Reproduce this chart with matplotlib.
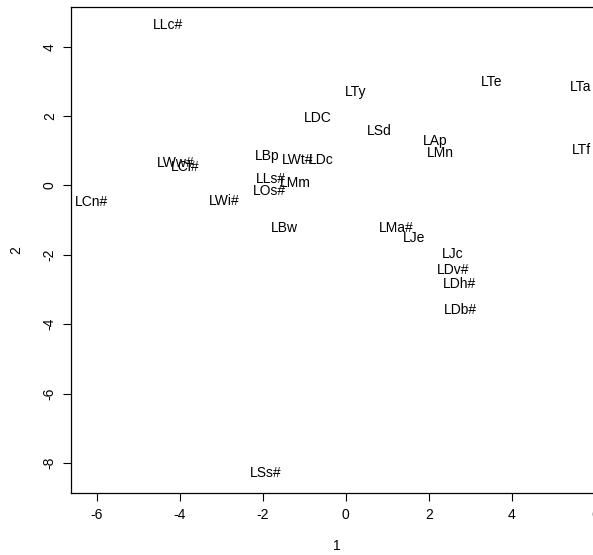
import matplotlib
matplotlib.use('Agg')
import matplotlib.pyplot as plt

plt.rcParams['font.family'] = ['Liberation Sans', 'DejaVu Sans']

# sample labels and their coordinates on the first two axes
labels = ['LLc#', 'LTy', 'LTe', 'LTa', 'LDC', 'LSd', 'LAp', 'LMn', 'LTf',
          'LWw#', 'LCl#', 'LBp', 'LWt#', 'LDc', 'LLs#', 'LMm', 'LOs#',
          'LCn#', 'LWi#', 'LBw', 'LMa#', 'LJe', 'LJc', 'LDv#', 'LDh#',
          'LDb#', 'LSs#']
dim1 = [-4.28, 0.23, 3.51, 5.65, -0.67, 0.80, 2.15, 2.29, 5.69,
        -4.09, -3.88, -1.90, -1.17, -0.60, -1.80, -1.21, -1.83,
        -6.14, -2.92, -1.48, 1.22, 1.65, 2.58, 2.60, 2.74,
        2.77, -1.93]
dim2 = [4.62, 2.70, 2.99, 2.84, 1.94, 1.58, 1.29, 0.93, 1.02,
        0.65, 0.53, 0.86, 0.73, 0.73, 0.19, 0.07, -0.16,
        -0.47, -0.45, -1.22, -1.22, -1.52, -1.97, -2.44, -2.84,
        -3.59, -8.29]

xticks = [-6, -4, -2, 0, 2, 4, 6]
yticks = [-8, -6, -4, -2, 0, 2, 4]

fig = plt.figure(figsize=(5.93, 5.55), dpi=100)
ax = fig.add_axes([0.1192, 0.1123, 0.8976, 0.8746])

for lab, x, y in zip(labels, dim1, dim2):
    ax.text(x, y, lab, ha='center', va='center', fontsize=10, color='black')

ax.set_xlim(-6.63, 6.20)
ax.set_ylim(-8.853, 5.135)

ax.set_xticks(xticks)
ax.set_yticks(yticks)
ax.set_xticklabels([str(t) for t in xticks])
ax.set_yticklabels([str(t) for t in yticks], rotation=90, va='center')
ax.tick_params(direction='out', length=6, width=0.8, labelsize=10, colors='black')
ax.tick_params(axis='x', pad=5)
ax.tick_params(axis='y', pad=4)

# the plot box runs past the right edge of the saved image
for s in ax.spines.values():
    s.set_linewidth(0.9)
    s.set_color('black')
ax.spines['right'].set_visible(False)

ax.set_xlabel('1', fontsize=10)
ax.set_ylabel('2', fontsize=10)
ax.xaxis.set_label_coords(0.5, -0.109)
ax.xaxis.label.set_va('center')
ax.yaxis.set_label_coords(-0.1014, 0.5)
ax.yaxis.label.set_va('center')

plt.savefig('out.png', dpi=100)
plt.close()
